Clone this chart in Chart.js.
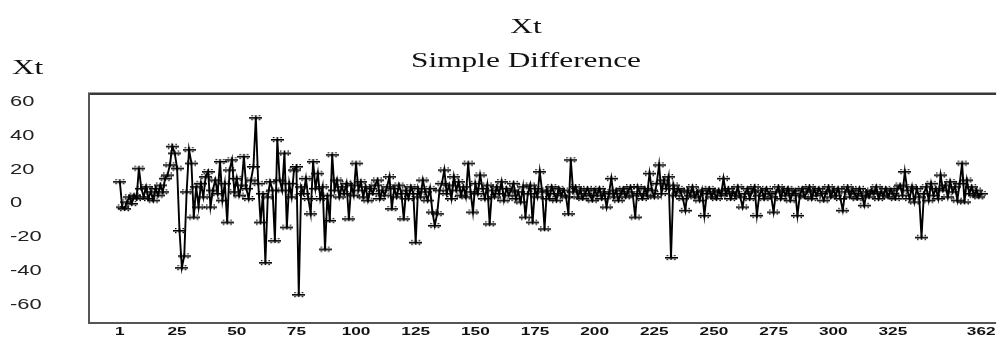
<!DOCTYPE html>
<html>
<head>
<meta charset="utf-8">
<script src="https://cdn.jsdelivr.net/npm/chart.js@4"></script>
<style>
  html, body { margin: 0; padding: 0; background: #fff; }
  #wrap { width: 1002px; height: 339px; }
</style>
</head>
<body>
<div id="wrap"><canvas id="chart"></canvas></div>
<script>
const titleText = "Xt";
const subtitleText = "Simple Difference";
const yAxisLabel = "Xt";

const xTicks = [1, 25, 50, 75, 100, 125, 150, 175, 200, 225, 250, 275, 300, 325, 362];
const yTicks = [-60, -40, -20, 0, 20, 40, 60];

// simple difference of Xt, t = 1..362
const xt = [
  13, -2, -3, 1, 4, 0, 5, 3, 21, 9, 4, 10, 3, 7, 2, 9, 5, 11, 7, 15,
  17, 23, 34, 30, 21, -16, -38, -31, 7, 32, 24, -8, 10, -2, 12, 4, 16, 19, -2, 8,
  14, 6, 25, 2, 12, -11, 20, 26, 7, 15, 5, 11, 28, 9, 3, 14, 22, 51, 12, -11,
  6, -35, 4, 13, 8, -22, 38, 14, 8, 30, -14, 12, 4, 20, 22, -54, 10, 6, 15, 3,
  -6, 25, 9, 18, 3, 10, -27, 5, -10, 29, 8, 14, 4, 10, 6, 12, -9, 11, 5, 24,
  8, 13, 4, 10, 2, 9, 6, 11, 14, 3, 8, 5, 10, 16, -3, 9, 4, 11, 6, -9,
  8, 3, 10, 6, -23, 9, 4, 14, 7, 2, 9, -5, -13, -6, 8, 12, 20, 6, 11, 3,
  16, 8, 13, 5, 10, 4, 24, 7, -5, 12, 6, 17, 9, 3, 11, -12, 8, 4, 10, 6,
  13, 2, 9, 5, 8, 12, 3, 7, 1, 10, -8, 6, 11, -11, 9, 4, 19, 7, -15, 8,
  3, 10, 6, 2, 9, 5, 8, 4, -6, 26, 7, 10, 4, 8, 3, 6, 9, 5, 2, 8,
  5, 9, 3, 7, -2, 6, 15, 4, 8, 2, 6, 9, 4, 7, 10, 5, -8, 10, 6, 3,
  9, 5, 18, 8, 4, 12, 23, 6, 14, 9, 16, -32, 11, 5, 9, 7, 3, -4, 8, 5,
  10, 4, 7, 2, 8, -7, 6, 9, 4, 7, 3, 8, 5, 15, 6, 9, 3, 7, 5, 10,
  4, -2, 6, 9, 3, 7, 10, -7, 5, 8, 3, 9, 6, 4, -5, 7, 10, 3, 8, 5,
  9, 2, 6, 8, -7, 5, 9, 4, 7, 10, 3, 8, 5, 9, 6, 2, 7, 10, 4, 8,
  5, 9, 3, -4, 7, 10, 4, 8, 6, 3, 9, 5, -1, 7, 4, 8, 6, 10, 3, 7,
  5, 9, 4, 8, 6, 3, 9, 11, 5, 19, 8, 3, 10, 1, 9, 4, -20, 6, 10, 2,
  12, 5, 9, 3, 17, 8, 11, 4, 13, 7, 10, 2, 12, 24, 1, 14, 6, 10, 5, 8,
  4, 6
];

// the source picture is stretched sideways, so all text is too
const stretch = 1.566;

const stretch_text = (ctx) => {
  const fill = ctx.fillText.bind(ctx);
  ctx.fillText = (text, x, y) => {
    ctx.save();
    ctx.translate(x, y);
    ctx.scale(stretch, 1);
    fill(text, 0, 0);
    ctx.restore();
  };
};

const make_marker = () => {
  const c = document.createElement("canvas");
  c.width = 13;
  c.height = 7;
  const g = c.getContext("2d");
  g.fillStyle = "#000";
  g.fillRect(0, 3, 13, 1.6);
  g.fillRect(5.7, 1, 1.6, 5);
  g.fillRect(2, 1, 1.5, 1.2);
  g.fillRect(9.5, 1, 1.5, 1.2);
  g.fillRect(2, 5, 1.5, 1.2);
  g.fillRect(9.5, 5, 1.5, 1.2);
  return c;
};

const frame = {
  id: "frame",
  afterDraw(chart) {
    const { ctx, chartArea: a } = chart;
    ctx.save();
    ctx.fillStyle = "#9a9a9a";
    ctx.fillRect(a.left - 2, a.top - 3, a.right - a.left + 2, 1);
    ctx.fillStyle = "#3a3a3a";
    ctx.fillRect(a.left - 2, a.top - 2, a.right - a.left + 2, 2);
    ctx.fillStyle = "#555";
    ctx.fillRect(a.left - 2, a.top - 2, 2, a.bottom - a.top + 4);
    ctx.fillRect(a.left - 2, a.bottom, a.right - a.left + 2, 2);

    ctx.fillStyle = "#111";
    ctx.font = "20px 'Liberation Serif'";
    ctx.textBaseline = "middle";
    ctx.textAlign = "center";
    ctx.fillText(titleText, 526, 28);
    ctx.fillText(subtitleText, 526, 62);
    ctx.textAlign = "left";
    ctx.fillText(yAxisLabel, 12, 69);
    ctx.restore();
  }
};

const ctx = document.getElementById("chart").getContext("2d");
stretch_text(ctx);

const chart = new Chart(ctx, {
  type: "line",
  data: {
    datasets: [
      {
        label: titleText,
        data: xt.map((v, i) => ({ x: i + 1, y: v })),
        borderColor: "#000",
        borderWidth: 1.9,
        lineTension: 0,
        pointStyle: make_marker(),
        pointRadius: 4,
        pointHoverRadius: 4
      }
    ]
  },
  options: {
    responsive: true,
    maintainAspectRatio: false,
    animation: false,
    events: [],
    layout: {
      padding: { left: 10, right: 0, top: 95, bottom: 0 }
    },
    scales: {
      x: {
        type: "linear",
        min: -11.5,
        max: 368.25,
        grid: { display: false, drawTicks: false },
        border: { display: false },
        afterBuildTicks: (s) => { s.ticks = xTicks.map(v => ({ value: v })); },
        afterFit: (s) => { s.height = 17; },
        ticks: {
          autoSkip: false,
          maxRotation: 0,
          padding: 3,
          color: "#111",
          font: { family: "Liberation Sans", size: 11, weight: "bold" }
        }
      },
      y: {
        type: "linear",
        min: -70.3,
        max: 64.4,
        grid: { display: false, drawTicks: false },
        border: { display: false },
        afterBuildTicks: (s) => { s.ticks = yTicks.map(v => ({ value: v })); },
        afterFit: (s) => { s.width = 80; },
        ticks: {
          crossAlign: "far",
          color: "#222",
          font: { family: "Liberation Sans", size: 14 }
        }
      }
    },
    plugins: {
      legend: { display: false },
      tooltip: { enabled: false },
      title: { display: false }
    }
  },
  plugins: [frame]
});
</script>
</body>
</html>
